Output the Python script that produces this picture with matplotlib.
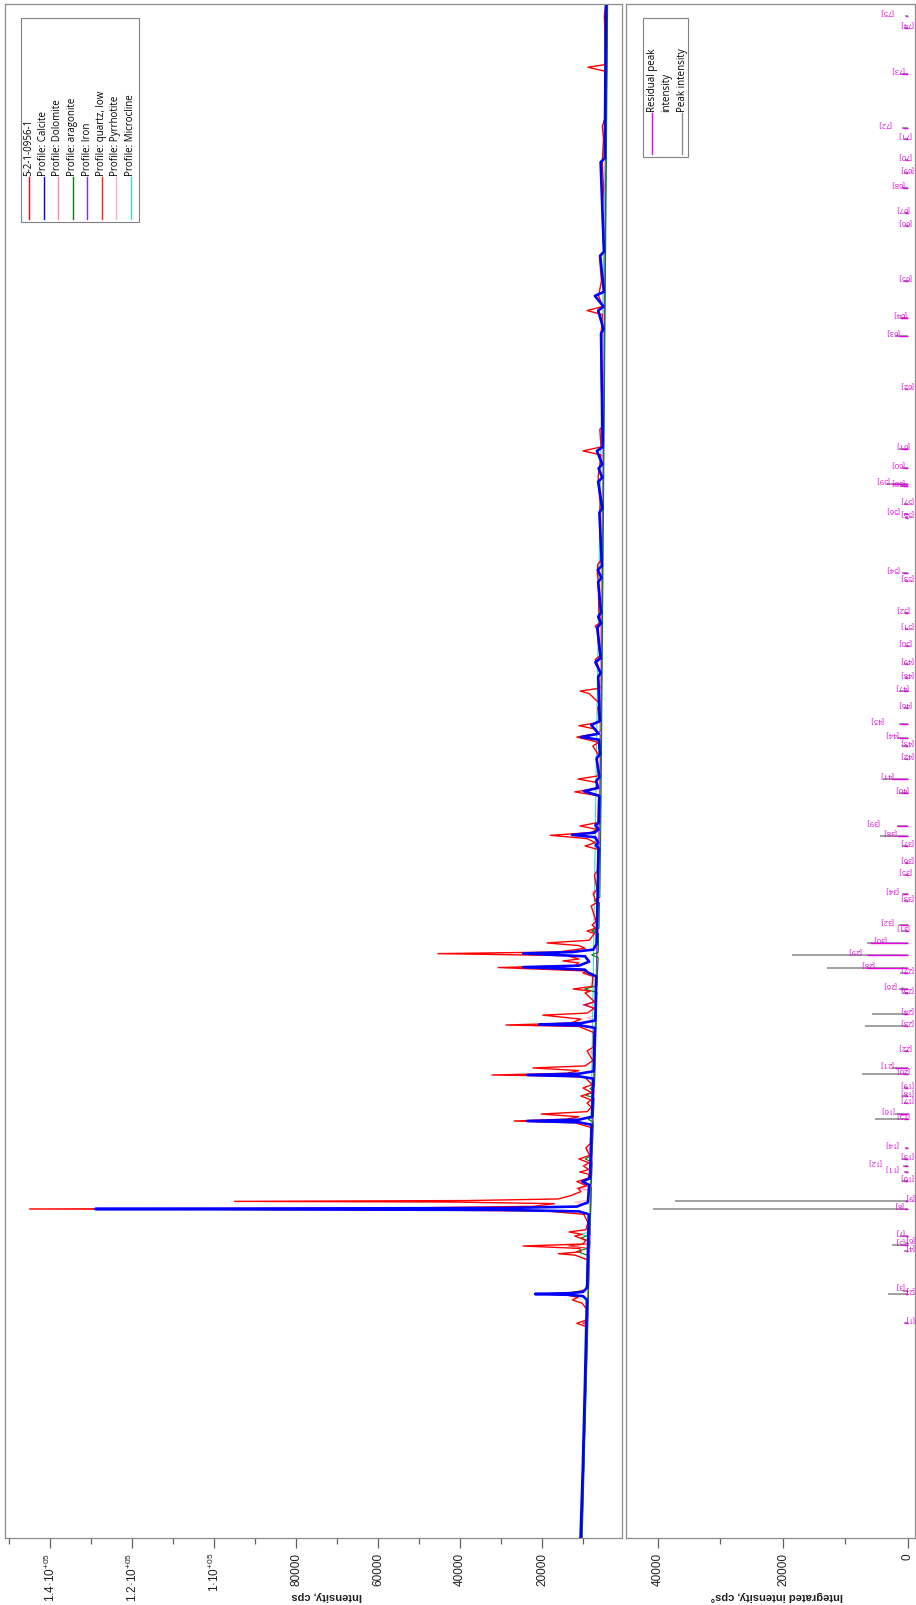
import numpy as np
import matplotlib.pyplot as plt
from matplotlib.lines import Line2D
from matplotlib.patches import Rectangle
from matplotlib.ticker import MultipleLocator, FuncFormatter

plt.rcParams['font.family'] = ['Liberation Sans', 'DejaVu Sans']
plt.rcParams['mathtext.fontset'] = 'custom'
plt.rcParams['mathtext.rm'] = 'Liberation Sans'
plt.rcParams['mathtext.it'] = 'Liberation Sans'
plt.rcParams['mathtext.default'] = 'regular'

measured = [
    (4.79, 10600), (7.0, 10350), (10.0, 10050), (13.0, 9800), (16.0, 9550), (19.0, 9300), (20.6, 9200),
    (20.85, 11500), (21.1, 9150), (21.9, 9100), (22.35, 10200), (22.6, 12600), (22.8, 11200),
    (22.96, 14000), (23.04, 21200), (23.14, 12500), (23.35, 9400), (23.8, 9000), (25.6, 8850),
    (25.95, 12000), (26.05, 16000), (26.2, 10500), (26.45, 10800), (26.63, 24600), (26.78, 10000),
    (27.05, 9300), (27.38, 12000), (27.5, 10200), (27.68, 13400), (27.85, 9300), (28.4, 8800),
    (29.0, 9800), (29.25, 19000), (29.34, 60000), (29.40, 145000), (29.47, 55000), (29.6, 22000),
    (29.8, 17000), (29.92, 42000), (29.97, 95000), (30.03, 38000), (30.15, 16000), (30.4, 13000),
    (30.7, 10500), (30.94, 11200), (31.15, 9200), (31.45, 11500), (31.7, 8700), (32.0, 8600),
    (32.17, 10800), (32.35, 8600), (32.62, 9900), (32.85, 8500), (33.14, 11000), (33.4, 8400),
    (33.96, 9300), (34.3, 8200), (35.5, 8100), (35.85, 12000), (35.98, 26800), (36.12, 14000),
    (36.3, 11000), (36.5, 20200), (36.68, 9000), (37.0, 8000), (37.33, 9000), (37.55, 8000),
    (37.85, 10500), (38.1, 7900), (38.45, 10000), (38.7, 7800), (39.25, 9500), (39.35, 15000),
    (39.42, 32200), (39.55, 14000), (39.75, 11000), (39.95, 22200), (40.1, 9500), (40.5, 7600),
    (41.22, 9000), (41.5, 7500), (42.6, 7400), (43.05, 11000), (43.16, 28800), (43.3, 13000),
    (43.6, 10500), (43.9, 19800), (44.05, 9000), (44.4, 7300), (44.67, 9500), (44.9, 7200),
    (45.56, 9500), (45.7, 8200), (45.85, 12400), (46.05, 7800), (46.8, 7600), (47.05, 10000),
    (47.2, 9000), (47.46, 30700), (47.6, 12000), (47.8, 11000), (47.95, 14900), (48.1, 11000),
    (48.35, 14000), (48.5, 45400), (48.62, 16000), (48.9, 9500), (49.1, 11000), (49.3, 18800),
    (49.5, 8500), (50.0, 7200), (50.19, 9000), (50.4, 6900), (50.64, 7800), (50.9, 6800),
    (52.07, 8000), (52.3, 6700), (52.96, 7500), (53.3, 6600), (54.38, 7200), (54.7, 6500),
    (56.3, 6400), (56.55, 9500), (56.8, 7000), (57.1, 9000), (57.35, 18000), (57.55, 8000),
    (57.8, 6600), (58.05, 10700), (58.3, 6400), (60.3, 6200), (60.6, 12000), (60.85, 6800),
    (61.3, 6600), (61.56, 11200), (61.8, 6200), (63.06, 6600), (63.3, 6100), (64.03, 7600),
    (64.3, 6200), (64.7, 11500), (64.95, 6500), (65.3, 7000), (65.55, 11000), (65.8, 6000),
    (66.87, 6400), (67.2, 5900), (67.95, 8500), (68.14, 10700), (68.35, 5900), (69.12, 6300),
    (69.4, 5800), (70.16, 6500), (70.5, 7000), (70.8, 5800), (71.51, 6200), (72.78, 6600),
    (73.0, 7000), (73.3, 5700), (73.98, 6100), (76.37, 6300), (76.97, 6500), (77.6, 6400),
    (78.0, 5500), (81.23, 6000), (82.13, 5800), (83.48, 6200), (84.2, 6300), (84.82, 6000),
    (85.8, 5600), (86.1, 10000), (86.4, 5600), (87.7, 5900), (88.0, 5100), (90.73, 5500),
    (94.69, 5600), (96.3, 5300), (96.6, 9000), (96.9, 5200), (97.7, 6200), (98.81, 5500),
    (100.7, 6000), (101.0, 4900), (102.92, 5200), (103.89, 5300), (105.76, 5000), (107.7, 5300),
    (109.43, 5000), (110.4, 5300), (111.0, 4600), (114.5, 4600), (114.8, 8800), (115.0, 4550),
    (117.73, 4700), (118.63, 4800), (119.53, 4400),
]

calcite = [
    (4.79, 10600), (10.0, 10050), (16.0, 9550), (22.6, 9050), (22.88, 10000), (22.98, 13500),
    (23.04, 21700), (23.1, 13500), (23.2, 10000), (23.5, 9000), (29.0, 8600), (29.22, 11000),
    (29.33, 30000), (29.40, 129000), (29.47, 30000), (29.58, 11500), (29.9, 8800), (31.2, 8500),
    (31.45, 10200), (31.7, 8300), (35.7, 7900), (35.88, 11000), (35.98, 23600), (36.08, 11000),
    (36.3, 7800), (39.15, 7500), (39.32, 11000), (39.42, 23600), (39.52, 11000), (39.7, 7400),
    (42.95, 7100), (43.12, 10500), (43.2, 20700), (43.3, 10500), (43.5, 7000), (46.8, 6800),
    (47.12, 9000), (47.3, 9500), (47.49, 24600), (47.6, 11000), (47.9, 8500), (48.3, 9500),
    (48.51, 24600), (48.62, 12700), (48.8, 7500), (49.2, 6700), (56.4, 6200), (56.6, 6900),
    (56.8, 6300), (57.2, 7000), (57.38, 12700), (57.55, 7200), (57.8, 6200), (58.1, 7000),
    (58.3, 6100), (60.3, 6000), (60.65, 9800), (60.9, 6300), (61.4, 6800), (61.7, 6000),
    (63.1, 6700), (63.4, 5900), (64.5, 6100), (64.7, 10500), (64.95, 6200), (65.6, 8000),
    (65.9, 5900), (69.2, 6300), (69.5, 5700), (70.3, 7000), (70.6, 5700), (72.9, 6500),
    (73.2, 5600), (73.7, 6300), (74.0, 5600), (76.3, 6300), (76.6, 5500), (77.2, 6400),
    (77.5, 5400), (81.5, 6000), (81.8, 5300), (83.8, 6300), (84.1, 5300), (84.8, 6200),
    (85.1, 5300), (86.1, 6600), (86.4, 5200), (94.9, 5600), (95.2, 5000), (96.6, 6300),
    (96.9, 5000), (97.7, 7100), (98.0, 4900), (100.7, 5800), (101.0, 4900), (107.7, 5700),
    (108.0, 4700), (119.53, 4400),
]

aragonite = [
    (4.79, 10200), (20.0, 8900), (25.9, 8500), (26.22, 11500), (26.5, 8400), (27.0, 8300),
    (27.22, 10500), (27.5, 8300), (31.0, 8000), (31.1, 8500), (31.3, 8000), (32.9, 7800),
    (33.15, 9500), (33.4, 7800), (35.9, 7500), (36.1, 8700), (36.3, 7500), (37.7, 7300),
    (37.9, 9300), (38.2, 7300), (38.4, 8300), (38.6, 7200), (45.6, 6600), (45.85, 9600),
    (46.1, 6600), (48.2, 6300), (48.4, 7900), (48.6, 6300), (50.0, 6200), (50.2, 7900),
    (50.4, 6100), (52.3, 6000), (52.5, 7200), (52.7, 5900), (60.0, 5600), (119.53, 4000),
]

dolomite = [(4.79, 10300), (30.5, 8000), (30.8, 8400), (30.94, 11500), (31.1, 8400), (31.4, 7950),
            (40.9, 7000), (41.13, 8200), (41.35, 7000), (50.9, 6200), (51.07, 7400), (51.25, 6200),
            (119.53, 4100)]
iron = [(4.79, 10300), (44.4, 6900), (44.67, 10000), (44.9, 6900), (64.8, 5600), (65.0, 6400),
        (65.2, 5600), (119.53, 4100)]
quartz = [(4.79, 10300), (20.7, 8900), (20.86, 10100), (21.0, 8900), (26.45, 8500), (26.64, 13500),
          (26.8, 8500), (50.0, 6300), (50.14, 7100), (50.3, 6300), (119.53, 4100)]
pyrrhotite = [(4.79, 10300), (29.7, 8100), (29.9, 12000), (30.1, 8100), (33.6, 7700), (33.8, 9200),
              (34.0, 7700), (43.5, 6900), (43.7, 8900), (43.9, 6900), (52.9, 6300), (53.1, 7800),
              (53.3, 6300), (119.53, 4100)]
microcline = [(4.79, 10300), (20.9, 8900), (21.0, 9500), (21.1, 8900), (27.3, 8400), (27.5, 10400),
              (27.7, 8400), (119.53, 4100)]

profile_names = ['5-2-1-0956-1', 'Profile: Calcite', 'Profile: Dolomite', 'Profile: aragonite',
                 'Profile: Iron', 'Profile: quartz, low', 'Profile: Pyrrhotite', 'Profile: Microcline']

# peak table: position (2theta), peak intensity, residual peak intensity
peak_pos = [20.87, 23.04, 23.30, 26.26, 26.71, 26.86, 27.38, 29.40, 29.97, 31.49,
            32.17, 32.62, 33.14, 33.96, 36.13, 36.51, 37.33, 37.85, 38.45, 39.50,
            39.95, 41.22, 43.09, 43.98, 45.56, 45.85, 47.05, 47.43, 48.40, 49.30,
            50.19, 50.64, 52.44, 52.96, 54.38, 55.28, 56.55, 57.30, 58.05, 60.51,
            61.56, 63.06, 64.03, 64.63, 65.67, 66.87, 68.14, 69.12, 70.16, 71.51,
            72.78, 73.98, 76.37, 76.97, 81.10, 81.35, 82.13, 83.48, 83.60, 84.82,
            86.24, 90.73, 94.69, 96.04, 98.81, 102.92, 103.89, 105.76, 106.89, 107.86,
            109.43, 110.25, 114.29, 117.73, 118.63]
peak_int = [600, 3200, 800, 600, 2500, 500, 1200, 40800, 37300, 900,
            700, 800, 900, 500, 5300, 2000, 600, 900, 700, 7400,
            2500, 700, 6900, 5800, 800, 1500, 1200, 13000, 18500, 6600,
            900, 1500, 600, 900, 500, 500, 1000, 4500, 1800, 1500,
            4000, 600, 900, 1800, 1500, 600, 1200, 500, 600, 500,
            500, 700, 500, 900, 500, 700, 600, 1200, 3400, 1000,
            1500, 500, 2100, 1300, 700, 500, 600, 1000, 600, 500,
            700, 900, 1200, 600, 500]
residual_int = [500, 400, 300, 300, 600, 200, 500, 600, 400, 600,
                500, 700, 600, 400, 600, 1500, 300, 500, 400, 800,
                2000, 400, 500, 600, 500, 1200, 600, 6500, 6500, 6000,
                500, 1200, 300, 800, 300, 300, 400, 1800, 1800, 1000,
                2500, 300, 500, 1500, 1200, 300, 600, 300, 300, 300,
                300, 400, 300, 800, 300, 500, 300, 800, 2500, 700,
                1000, 300, 1500, 1300, 400, 300, 400, 800, 300, 300,
                400, 800, 900, 400, 300]

# where each label's right edge sits (labels are staggered to avoid overlap)
label_x = [-1100, -1100, 600, -1100, 600, -1100, 600, 800, -1100, -800,
           1600, 4200, -800, 1600, -300, 2200, -800, -800, -800, -300,
           2400, -500, -800, -800, -800, 1800, -800, 5400, 7500, 3400,
           -300, 2400, -800, 1600, -600, -800, -800, 1800, 4500, 0,
           2400, -800, -800, 1600, 4000, -600, 0, -800, -800, -600,
           -800, -200, -800, 1400, -800, 1300, -800, 600, 3000, 600,
           -300, -800, 1400, 300, -600, -600, -300, 500, -800, -600,
           -600, 2600, 500, -800, 2400]

W, H = 916, 1606


def fx(px):
    return px / W


def fy(py):
    return 1 - py / H


fig = plt.figure(figsize=(W / 100, H / 100), dpi=100)
ax1 = fig.add_axes([fx(5), fy(1539), (622 - 5) / W, (1539 - 5) / H])
ax2 = fig.add_axes([fx(626), fy(1539), (915 - 626) / W, (1539 - 5) / H])

colors = ['#ff0000', '#0000ff', '#ff80c0', '#008000', '#7b2fff', '#ff2020', '#ffb0d0', '#30e0d0']
others = [(quartz, colors[5]), (pyrrhotite, colors[6]), (microcline, colors[7]),
          (dolomite, colors[2]), (iron, colors[4]), (aragonite, colors[3])]
for prof, col in others:
    t, c = np.array(prof).T
    ax1.plot(c, t, color=col, lw=0.8)
t, c = np.array(measured).T
ax1.plot(c, t, color=colors[0], lw=1.0)
t, c = np.array(calcite).T
ax1.plot(c, t, color=colors[1], lw=1.9)

ax2.hlines(peak_pos, 0, peak_int, color='#9a9a9a', lw=1.3)
ax2.hlines(peak_pos, 0, residual_int, color='#e800e8', lw=1.0)
for i, p in enumerate(peak_pos):
    ax2.text(label_x[i], p + 0.12, '[%d]' % (i + 1), rotation=180, ha='right', va='bottom',
             color='#e000e0', fontsize=5.5, family=['Open Sans', 'DejaVu Sans'], clip_on=False)

ax1.set_xlim(151000, 490)
ax2.set_xlim(45100, -1120)
for ax in (ax1, ax2):
    ax.set_ylim(4.79, 119.53)
    ax.tick_params(axis='y', left=False, right=False, labelleft=False)
    ax.xaxis.set_major_locator(MultipleLocator(20000))
    ax.xaxis.set_minor_locator(MultipleLocator(10000))
    ax.tick_params(axis='x', which='major', length=7, width=0.9, color='#606060',
                   labelrotation=90, labelsize=8.5, labelcolor='#202020', pad=3)
    ax.tick_params(axis='x', which='minor', length=4, width=0.9, color='#606060')
    for s in ax.spines.values():
        s.set_color('#8c8c8c')
        s.set_linewidth(0.9)


def fmt(v, pos):
    if v >= 100000:
        return '{:g}·10$^{{+05}}$'.format(v / 1e5)
    return '{:d}'.format(int(round(v)))


ax1.xaxis.set_major_formatter(FuncFormatter(fmt))
ax2.xaxis.set_major_formatter(FuncFormatter(fmt))

fig.text(fx(327), fy(1596), 'Intensity, cps', rotation=180, ha='center', va='center',
         fontsize=8, fontweight='bold', color='#202020')
fig.text(fx(777), fy(1596), 'Integrated intensity, cps°', rotation=180, ha='center', va='center',
         fontsize=8, fontweight='bold', color='#202020')

# rotated legends, drawn by hand
lfont = ['Open Sans', 'DejaVu Sans']
fig.add_artist(Rectangle((fx(21), fy(223)), (139 - 21) / W, (223 - 19) / H, transform=fig.transFigure,
                         facecolor='white', edgecolor='#808080', lw=0.8))
for i, name in enumerate(profile_names):
    x = 29 + 14.5 * i
    fig.add_artist(Line2D([fx(x), fx(x)], [fy(220), fy(178)], transform=fig.transFigure,
                          color=colors[i], lw=1.0))
    fig.text(fx(x), fy(176), name, rotation=90, ha='center', va='bottom', fontsize=7, family=lfont)

fig.add_artist(Rectangle((fx(643), fy(158)), (688 - 643) / W, (158 - 19) / H, transform=fig.transFigure,
                         facecolor='white', edgecolor='#808080', lw=0.8))
fig.add_artist(Line2D([fx(652), fx(652)], [fy(155), fy(114)], transform=fig.transFigure,
                      color='#e800e8', lw=1.0))
fig.add_artist(Line2D([fx(682), fx(682)], [fy(155), fy(114)], transform=fig.transFigure,
                      color='#8c8c8c', lw=1.0))
fig.text(fx(652), fy(112), 'Residual peak', rotation=90, ha='center', va='bottom', fontsize=7, family=lfont)
fig.text(fx(667), fy(112), 'intensity', rotation=90, ha='center', va='bottom', fontsize=7, family=lfont)
fig.text(fx(682), fy(112), 'Peak intensity', rotation=90, ha='center', va='bottom', fontsize=7, family=lfont)

fig.savefig('out.png', dpi=100)
